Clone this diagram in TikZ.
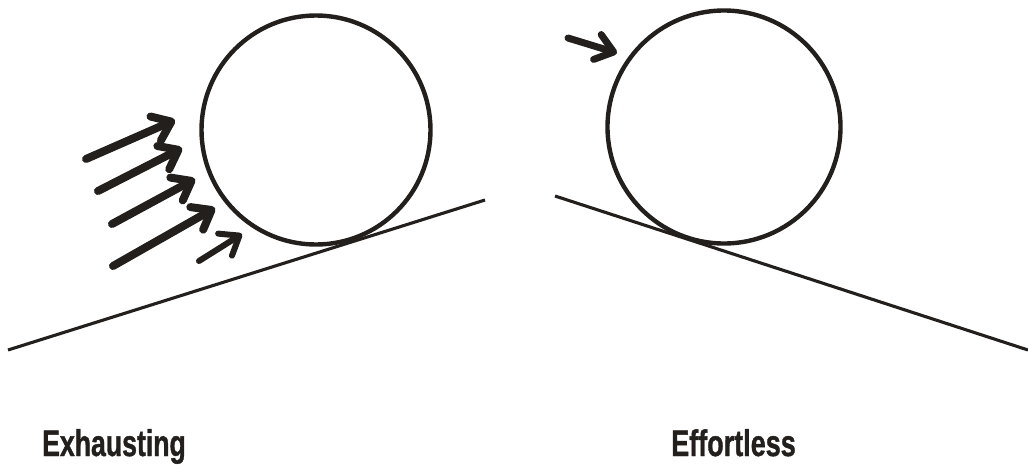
\documentclass[tikz,border=0pt]{standalone}
\usepackage{fontspec}
\usepackage{graphicx}
\setmainfont{Liberation Sans}
\newfontfamily\capfont[FakeBold=1.2]{Liberation Sans Bold}
\usetikzlibrary{arrows.meta}
\definecolor{ink}{HTML}{231F1C}
\tikzset{
  ball/.style={circle, draw=ink, line width=4.4pt, inner sep=0pt, minimum size=#1},
  ground/.style={draw=ink, line width=3.1pt},
  push/.style={draw=ink, line width=#1, line cap=round,
     -{Straight Barb[length=17pt,width=26pt,round]}},
  push/.default=8pt,
  caption/.style={anchor=base west, inner sep=0pt, text=ink, font=\capfont\fontsize{37}{40}\selectfont}
}
\begin{document}
\begin{tikzpicture}[x=1pt,y=-1pt]
\useasboundingbox (0,0) rectangle (1028,464);
% left scene
\node[ball=229pt] (lball) at (316,130) {};
\coordinate (l1) at (8,350);
\coordinate (l2) at (485,200);
\draw[ground] (l1) -- (l2);
\coordinate (a1s) at (86,159); \coordinate (a1e) at (175,120);
\coordinate (a2s) at (98,191); \coordinate (a2e) at (182,148);
\coordinate (a3s) at (112,224); \coordinate (a3e) at (195,179);
\coordinate (a4s) at (113,266); \coordinate (a4e) at (215,208);
\coordinate (a5s) at (199,261); \coordinate (a5e) at (242,234);
\draw[push] (a1s) -- (a1e);
\draw[push] (a2s) -- (a2e);
\draw[push] (a3s) -- (a3e);
\draw[push] (a4s) -- (a4e);
\draw[push=6pt] (a5s) -- (a5e);
% right scene
\node[ball=233pt] (rball) at (724,127) {};
\coordinate (r1) at (555,196);
\coordinate (r2) at (1028,350);
\draw[ground] (r1) -- (r2);
\coordinate (b1s) at (568,38); \coordinate (b1e) at (617,53);
\draw[push=7pt] (b1s) -- (b1e);
% captions
\node[caption] (t1) at (42,456) {\scalebox{0.72}[1]{Exhausting}};
\node[caption] (t2) at (671,456) {\scalebox{0.73}[1]{Effortless}};
\end{tikzpicture}
\end{document}
